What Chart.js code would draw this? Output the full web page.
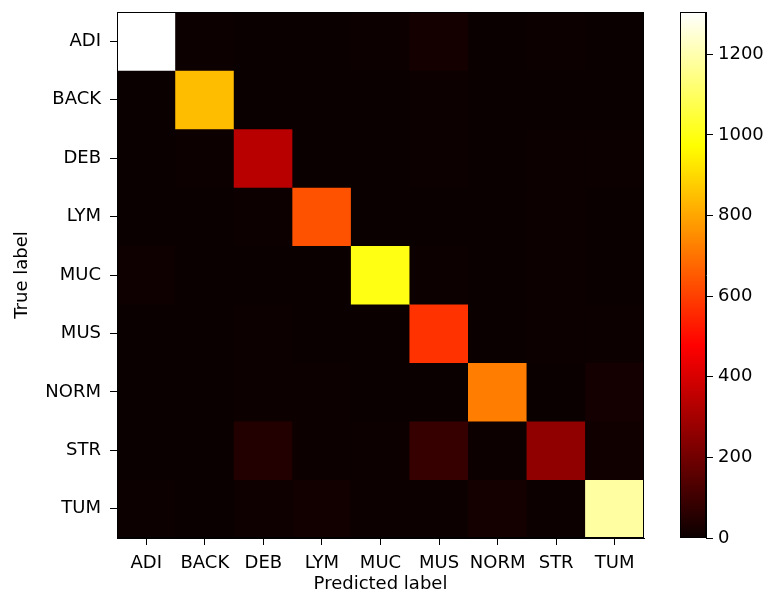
<!DOCTYPE html>
<html>
<head>
<meta charset="utf-8">
<script src="https://cdn.jsdelivr.net/npm/chart.js@4.4.1/dist/chart.umd.min.js"></script>
<style>
  body { margin: 0; background: #fff; width: 769px; height: 595px; position: relative; overflow: hidden; }
  #matrix { position: absolute; left: 0; top: 0; }
  #cbar { position: absolute; left: 650px; top: 0; }
</style>
</head>
<body>
<canvas id="matrix" width="650" height="595"></canvas>
<canvas id="cbar" width="119" height="595"></canvas>
<script>
// labels
const predLabels = ["ADI", "BACK", "DEB", "LYM", "MUC", "MUS", "NORM", "STR", "TUM"];
const trueLabels = ["ADI", "BACK", "DEB", "LYM", "MUC", "MUS", "NORM", "STR", "TUM"];

// confusion matrix, one row per true label
const rowADI  = [1305,   2,   0,   1,    3,  20,   1,   2,    1];
const rowBACK = [   0, 845,   1,   0,    0,   2,   0,   1,    0];
const rowDEB  = [   0,   2, 340,   1,    0,   2,   1,   3,    2];
const rowLYM  = [   0,   0,   2, 636,    0,   1,   0,   2,    1];
const rowMUC  = [   8,   0,   0,   0, 1000,   2,   1,   3,    1];
const rowMUS  = [   1,   0,   4,   1,    1, 574,   1,   5,    3];
const rowNORM = [   0,   0,   2,   2,    0,   1, 720,   1,   18];
const rowSTR  = [   1,   0,  45,   2,    2,  85,   3, 262,   10];
const rowTUM  = [   2,   1,   6,  15,   2,   4,  20,   3, 1183];
const counts = [rowADI, rowBACK, rowDEB, rowLYM, rowMUC, rowMUS, rowNORM, rowSTR, rowTUM];

// colour bar
const vMin = 0;
const vMax = 1305;
const cbarTicks = [0, 200, 400, 600, 800, 1000, 1200];

const FONT = { family: "'DejaVu Sans', sans-serif", size: 18 };

// matplotlib "hot" colormap
function hot(v) {
  const t = Math.min(1, Math.max(0, (v - vMin) / (vMax - vMin)));
  const r = Math.min(1, 0.0416 + t / 0.365079 * 0.9584);
  const g = Math.min(1, Math.max(0, (t - 0.365079) / (0.746032 - 0.365079)));
  const b = Math.min(1, Math.max(0, (t - 0.746032) / (1 - 0.746032)));
  return `rgb(${Math.round(r * 255)},${Math.round(g * 255)},${Math.round(b * 255)})`;
}

// фон і рамка області графіка
const framePlugin = {
  id: "frame",
  beforeDatasetsDraw(chart, args, opts) {
    if (!opts.fill) return;
    const a = chart.chartArea;
    chart.ctx.save();
    chart.ctx.fillStyle = opts.fill;
    chart.ctx.fillRect(a.left, a.top, a.right - a.left, a.bottom - a.top);
    chart.ctx.restore();
  },
  afterDatasetsDraw(chart) {
    const a = chart.chartArea;
    const ctx = chart.ctx;
    ctx.save();
    ctx.strokeStyle = "#000";
    ctx.lineWidth = 1;
    ctx.strokeRect(Math.round(a.left) + 0.5, Math.round(a.top) + 0.5,
                   Math.round(a.right - a.left) - 1, Math.round(a.bottom - a.top) - 1);
    ctx.restore();
  }
};

// fixed size for a vertical axis, without label half-height padding
const fixVertical = w => s => { s.width = w; s.paddingTop = 0; s.paddingBottom = 0; };

// 1) heatmap as floating bars
new Chart(document.getElementById("matrix"), {
  type: "bar",
  data: {
    labels: predLabels,
    datasets: trueLabels.map((t, i) => ({
      label: t,
      data: counts[i].map(() => [i - 0.5, i + 0.5]),
      backgroundColor: counts[i].map(hot),
      borderWidth: 0,
      barPercentage: 1,
      categoryPercentage: 1,
      grouped: false
    }))
  },
  options: {
    responsive: false,
    animation: false,
    layout: { padding: { top: 12, right: 6, left: 0, bottom: 0 } },
    plugins: {
      legend: { display: false },
      tooltip: { enabled: false },
      frame: { fill: hot(0) }
    },
    scales: {
      x: {
        type: "category",
        offset: true,
        grid: { offset: false, drawOnChartArea: false, tickLength: 7, tickColor: "#000", tickWidth: 1 },
        border: { display: true, color: "#000" },
        ticks: { color: "#000", font: FONT, padding: 8, maxRotation: 0, autoSkip: false },
        title: { display: true, text: "Predicted label", color: "#000", font: FONT, padding: { top: 0, bottom: 0 } },
        afterFit: s => { s.height = 57; }
      },
      y: {
        type: "linear",
        reverse: true,
        min: -0.5,
        max: 8.5,
        afterBuildTicks: s => { s.ticks = trueLabels.map((_, i) => ({ value: i })); },
        grid: { drawOnChartArea: false, tickLength: 7, tickColor: "#000", tickWidth: 1 },
        border: { display: true, color: "#000" },
        ticks: { color: "#000", font: FONT, padding: 9, callback: v => trueLabels[v] },
        title: { display: true, text: "True label", color: "#000", font: FONT, padding: { top: 12, bottom: 0 } },
        afterFit: fixVertical(117)
      }
    }
  },
  plugins: [framePlugin]
});

// 2) colour bar
new Chart(document.getElementById("cbar"), {
  type: "bar",
  data: {
    labels: [""],
    datasets: [{
      data: [[vMin, vMax]],
      borderWidth: 0,
      barPercentage: 1,
      categoryPercentage: 1,
      backgroundColor: ctx => {
        const a = ctx.chart.chartArea;
        if (!a) return hot(0);
        const g = ctx.chart.ctx.createLinearGradient(0, a.bottom, 0, a.top);
        g.addColorStop(0, hot(vMin));
        g.addColorStop(0.365079, "rgb(255,0,0)");
        g.addColorStop(0.746032, "rgb(255,255,0)");
        g.addColorStop(1, "rgb(255,255,255)");
        return g;
      }
    }]
  },
  options: {
    responsive: false,
    animation: false,
    layout: { padding: { top: 12, left: 30, right: 0, bottom: 57 } },
    plugins: { legend: { display: false }, tooltip: { enabled: false } },
    scales: {
      x: { display: false },
      y: {
        position: "right",
        min: vMin,
        max: vMax,
        afterBuildTicks: s => { s.ticks = cbarTicks.map(v => ({ value: v })); },
        grid: { drawOnChartArea: false, tickLength: 7, tickColor: "#000", tickWidth: 1 },
        border: { display: true, color: "#000" },
        ticks: { color: "#000", font: FONT, padding: 5, callback: v => String(v) },
        afterFit: fixVertical(63)
      }
    }
  },
  plugins: [framePlugin]
});
</script>
</body>
</html>
